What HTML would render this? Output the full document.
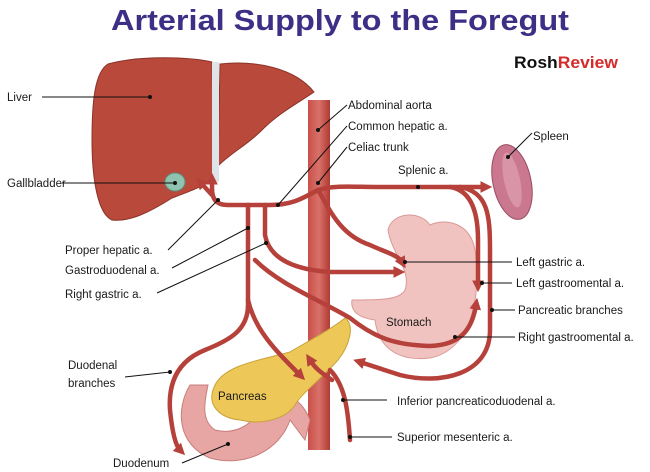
<!DOCTYPE html>
<html><head><meta charset="utf-8"><style>
html,body{margin:0;padding:0;background:#fff;}
svg{display:block;font-family:"Liberation Sans",Arial,sans-serif;}
.l{font-size:11.5px;fill:#1a1a1a;}
.ln{stroke:#111;stroke-width:1;fill:none;}
.a{stroke:#b5413a;stroke-width:4.5;fill:none;stroke-linecap:round;}
</style></head><body>
<svg width="650" height="472" viewBox="0 0 650 472" xmlns="http://www.w3.org/2000/svg">
<defs>
<marker id="ar" markerWidth="2.6" markerHeight="2.6" refX="1" refY="1.3" orient="auto" markerUnits="strokeWidth"><path d="M0,0 L2.6,1.3 L0,2.6 z" fill="#b5413a"/></marker>
<linearGradient id="ao" x1="0" x2="1"><stop offset="0" stop-color="#c9504a"/><stop offset=".5" stop-color="#d9716a"/><stop offset="1" stop-color="#b03a33"/></linearGradient>
</defs>
<text x="340" y="30" text-anchor="middle" font-size="29" font-weight="bold" fill="#3e2f86" textLength="458" lengthAdjust="spacingAndGlyphs">Arterial Supply to the Foregut</text>
<text x="514" y="68" font-size="17" font-weight="bold" textLength="104" lengthAdjust="spacingAndGlyphs"><tspan fill="#111">Rosh</tspan><tspan fill="#d42b2b">Review</tspan></text>

<!-- liver -->
<path d="M108,64 C140,55 190,57 212,62 L214,178 C205,186 188,192 172,198 C150,212 130,222 112,220 C98,214 92,180 92,140 C92,100 95,72 108,64 Z" fill="#b9493a" stroke="#8a3328"/>
<path d="M220,64 C255,60 295,68 314,92 C300,102 280,112 262,130 C246,146 232,152 218,166 Z" fill="#b9493a" stroke="#8a3328"/>
<path d="M212,62 L219,62 L219,182 L212,182 Z" fill="#dfe4e8"/>
<ellipse cx="175" cy="182" rx="10" ry="9" fill="#8fc3b0" stroke="#5b8f7f"/>

<!-- aorta -->
<rect x="308" y="100" width="22" height="350" fill="url(#ao)"/>

<!-- spleen -->
<ellipse cx="512" cy="182" rx="19" ry="38" transform="rotate(-12 512 182)" fill="#c9788f" stroke="#9a4c62"/>
<ellipse cx="512" cy="180" rx="8" ry="28" transform="rotate(-12 512 180)" fill="#d994a8"/>

<!-- stomach -->
<path d="M388,230 C392,212 420,210 430,225 C445,218 470,222 475,250 C482,300 470,350 430,358 C395,362 378,345 375,320 C360,318 350,312 352,300 C380,300 400,300 405,290 C412,270 392,255 388,230 Z" fill="#f1c3c0" stroke="#d99a96"/>

<!-- duodenum -->
<path d="M190,385 C175,410 178,445 210,458 C245,468 280,450 290,420 L305,440 L310,420 C300,395 280,388 260,405 C255,425 235,435 215,430 C200,420 205,400 208,385 Z" fill="#e7a6a3" stroke="#c77f7b"/>
<!-- pancreas -->
<path d="M215,385 C225,365 260,360 290,352 C310,340 330,330 345,318 C355,325 350,345 338,360 C320,380 300,395 295,405 C285,420 260,425 240,420 C220,418 205,405 215,385 Z" fill="#edc859" stroke="#c9a23a"/>

<!-- arteries -->
<path class="a" d="M318,190 C300,200 290,205 270,205 L228,205 C215,205 212,198 212,188 L212,180" marker-end="url(#ar)"/>
<path class="a" d="M212,195 L201,183" marker-end="url(#ar)"/>
<path class="a" d="M248,205 L248,305 C248,330 230,340 205,350 C180,360 168,380 170,410 C172,430 175,445 180,450" marker-end="url(#ar)"/>
<path class="a" d="M248,300 C255,330 275,350 300,375" marker-end="url(#ar)"/>
<path class="a" d="M265,205 L265,235 C270,262 300,270 330,272 L398,272" marker-end="url(#ar)"/>
<path class="a" d="M318,190 C330,210 340,235 370,245 C385,252 398,255 402,262" marker-end="url(#ar)"/>
<path class="a" d="M255,260 C280,285 320,300 350,318 C375,338 395,345 430,346 C460,345 472,330 476,305" marker-end="url(#ar)"/>
<path class="a" d="M318,190 C335,185 350,187 380,187 L485,187" marker-end="url(#ar)"/>
<path class="a" d="M450,187 C470,190 478,210 478,240 L478,285" marker-end="url(#ar)"/>
<path class="a" d="M460,187 C488,192 490,215 490,250 L490,330 C490,375 440,385 400,375 L360,362" marker-end="url(#ar)"/>
<path class="a" d="M330,370 C345,385 348,410 350,440"/>
<path class="a" d="M332,380 C320,372 315,368 310,360" marker-end="url(#ar)"/>

<!-- leader lines -->
<g class="ln">
<path d="M42,97 L150,97"/><path d="M62,183 L175,183"/>
<path d="M318,130 L347,105"/><path d="M278,205 L347,126"/><path d="M318,183 L347,147"/>
<path d="M508,157 L532,133"/>
<path d="M168,250 L218,200"/><path d="M172,268 L248,228"/><path d="M157,293 L266,243"/>
<path d="M405,262 L512,262"/><path d="M482,283 L512,283"/><path d="M492,310 L515,310"/><path d="M455,337 L515,337"/>
<path d="M125,377 L170,372"/><path d="M343,400 L387,400"/><path d="M350,437 L392,437"/><path d="M182,463 L228,444"/>
</g>
<g fill="#111">
<circle cx="150" cy="97" r="2"/><circle cx="175" cy="183" r="2"/><circle cx="318" cy="130" r="2"/><circle cx="278" cy="205" r="2"/><circle cx="318" cy="183" r="2"/><circle cx="508" cy="157" r="2"/><circle cx="418" cy="187" r="2"/><circle cx="218" cy="200" r="2"/><circle cx="248" cy="228" r="2"/><circle cx="266" cy="243" r="2"/><circle cx="405" cy="262" r="2"/><circle cx="482" cy="283" r="2"/><circle cx="492" cy="310" r="2"/><circle cx="455" cy="337" r="2"/><circle cx="170" cy="372" r="2"/><circle cx="343" cy="400" r="2"/><circle cx="350" cy="437" r="2"/><circle cx="228" cy="444" r="2"/>
</g>
<g class="l">
<text x="7" y="101">Liver</text>
<text x="7" y="187">Gallbladder</text>
<text x="348" y="109">Abdominal aorta</text>
<text x="348" y="130">Common hepatic a.</text>
<text x="348" y="151">Celiac trunk</text>
<text x="533" y="140">Spleen</text>
<text x="398" y="174">Splenic a.</text>
<text x="65" y="254">Proper hepatic a.</text>
<text x="65" y="274">Gastroduodenal a.</text>
<text x="65" y="298">Right gastric a.</text>
<text x="516" y="266">Left gastric a.</text>
<text x="516" y="287">Left gastroomental a.</text>
<text x="518" y="314">Pancreatic branches</text>
<text x="518" y="341">Right gastroomental a.</text>
<text x="386" y="326">Stomach</text>
<text x="68" y="369">Duodenal</text>
<text x="68" y="387">branches</text>
<text x="218" y="400">Pancreas</text>
<text x="397" y="405">Inferior pancreaticoduodenal a.</text>
<text x="397" y="441">Superior mesenteric a.</text>
<text x="113" y="467">Duodenum</text>
</g>
</svg>
</body></html>
